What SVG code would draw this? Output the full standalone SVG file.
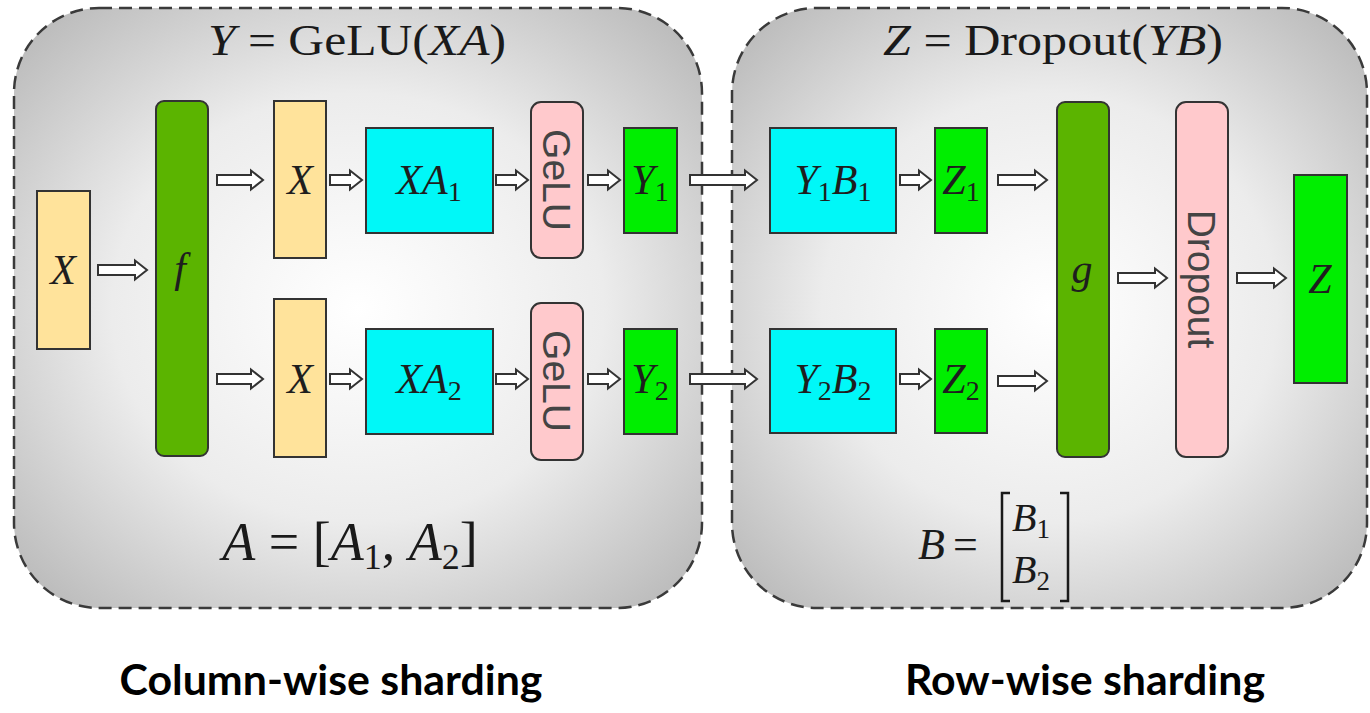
<svg xmlns="http://www.w3.org/2000/svg" width="1370" height="713" viewBox="0 0 1370 713">
<defs>
<radialGradient id="bg" cx="50%" cy="50%" r="65%">
<stop offset="0" stop-color="#ffffff"/>
<stop offset="0.55" stop-color="#ececec"/>
<stop offset="1" stop-color="#bdbdbd"/>
</radialGradient>
<style>
.panel{fill:url(#bg);stroke:#3a3a3a;stroke-width:2.5;stroke-dasharray:13 7}
.box{stroke:#333;stroke-width:2}
.yel{fill:#ffe39b}
.dg{fill:#5bb400}
.cy{fill:#00f8f8}
.pk{fill:#ffc9cc}
.bg{fill:#00ee00}
.m{font-family:"Liberation Serif","DejaVu Serif",serif;fill:#1a1a1a}
.i{font-style:italic}
.lbl{font-family:"Liberation Serif","DejaVu Serif",serif;font-size:42px;fill:#1e1e1e;text-anchor:middle}
.rot{font-family:"Liberation Sans",Arial,sans-serif;font-size:39px;fill:#444;text-anchor:middle}
.arr{fill:#fff;stroke:#333;stroke-width:2;stroke-linejoin:miter}
.cap{font-family:Lato,"Liberation Sans",sans-serif;font-weight:bold;font-size:42px;fill:#000;text-anchor:middle}
</style>
</defs>
<rect width="1370" height="713" fill="#fff"/>
<g id="panel-left">
<rect class="panel" x="14" y="8" width="688" height="600" rx="85" ry="85"/>
<text class="m" x="357" y="55" font-size="44" text-anchor="middle" textLength="298" lengthAdjust="spacingAndGlyphs"><tspan class="i">Y</tspan> = GeLU(<tspan class="i">XA</tspan>)</text>
<text class="m" x="350" y="560" font-size="54" text-anchor="middle"><tspan class="i">A</tspan> = [<tspan class="i">A</tspan><tspan font-size="36" dy="9">1</tspan><tspan dy="-9">, </tspan><tspan class="i">A</tspan><tspan font-size="36" dy="9">2</tspan><tspan dy="-9">]</tspan></text>
</g>
<g id="panel-right">
<rect class="panel" x="732" y="8" width="635" height="600" rx="85" ry="85"/>
<text class="m" x="1053" y="55" font-size="44" text-anchor="middle" textLength="340" lengthAdjust="spacingAndGlyphs"><tspan class="i">Z</tspan> = Dropout(<tspan class="i">YB</tspan>)</text>
<text class="m i" x="918" y="559" font-size="44">B</text>
<text class="m" x="953" y="559" font-size="44">=</text>
<polyline points="1010,493 1002,493 1002,601 1010,601" fill="none" stroke="#1a1a1a" stroke-width="2.5"/>
<polyline points="1060,493 1068,493 1068,601 1060,601" fill="none" stroke="#1a1a1a" stroke-width="2.5"/>
<text class="m" x="1012" y="531" font-size="40"><tspan class="i">B</tspan><tspan font-size="27" dy="7">1</tspan></text>
<text class="m" x="1012" y="583" font-size="40"><tspan class="i">B</tspan><tspan font-size="27" dy="7">2</tspan></text>
</g>
<g id="connectors">
<path class="arr" d="M98 265 H135 V260.5 L147 270 L135 279.5 V275 H98 Z"/>
<path class="arr" d="M217 175 H251 V170.5 L263 180 L251 189.5 V185 H217 Z"/>
<path class="arr" d="M217 374 H251 V369.5 L263 379 L251 388.5 V384 H217 Z"/>
<path class="arr" d="M330 175 H350 V170.5 L362 180 L350 189.5 V185 H330 Z"/>
<path class="arr" d="M330 374 H350 V369.5 L362 379 L350 388.5 V384 H330 Z"/>
<path class="arr" d="M496 175 H516 V170.5 L528 180 L516 189.5 V185 H496 Z"/>
<path class="arr" d="M496 374 H516 V369.5 L528 379 L516 388.5 V384 H496 Z"/>
<path class="arr" d="M588 175 H608 V170.5 L620 180 L608 189.5 V185 H588 Z"/>
<path class="arr" d="M588 374 H608 V369.5 L620 379 L608 388.5 V384 H588 Z"/>
<path class="arr" d="M690 175 H745 V170.5 L757 180 L745 189.5 V185 H690 Z"/>
<path class="arr" d="M690 374 H745 V369.5 L757 379 L745 388.5 V384 H690 Z"/>
<path class="arr" d="M900 175 H919 V170.5 L931 180 L919 189.5 V185 H900 Z"/>
<path class="arr" d="M900 374 H919 V369.5 L931 379 L919 388.5 V384 H900 Z"/>
<path class="arr" d="M998 175 H1035 V170.5 L1047 180 L1035 189.5 V185 H998 Z"/>
<path class="arr" d="M998 376 H1035 V371.5 L1047 381 L1035 390.5 V386 H998 Z"/>
<path class="arr" d="M1118 273 H1155 V268.5 L1167 278 L1155 287.5 V283 H1118 Z"/>
<path class="arr" d="M1237 273 H1274 V268.5 L1286 278 L1274 287.5 V283 H1237 Z"/>
</g>
<g id="node-x-in">
<rect class="box yel" x="37" y="191" width="53" height="158"/>
<text class="lbl i" x="63" y="284">X</text>
</g>
<g id="node-f">
<rect class="box dg" x="156" y="101" width="52" height="355" rx="8"/>
<text class="lbl i" x="180" y="282">f</text>
</g>
<g id="node-x1">
<rect class="box yel" x="274" y="101" width="52" height="157"/>
<text class="lbl i" x="300" y="194">X</text>
</g>
<g id="node-x2">
<rect class="box yel" x="274" y="299" width="52" height="158"/>
<text class="lbl i" x="300" y="393">X</text>
</g>
<g id="node-xa1">
<rect class="box cy" x="366" y="128" width="127" height="105"/>
<text class="lbl" x="429" y="194"><tspan class="i">XA</tspan><tspan font-size="28" dy="7">1</tspan></text>
</g>
<g id="node-xa2">
<rect class="box cy" x="366" y="329" width="127" height="105"/>
<text class="lbl" x="429" y="393"><tspan class="i">XA</tspan><tspan font-size="28" dy="7">2</tspan></text>
</g>
<g id="node-gelu1">
<rect class="box pk" x="531" y="102" width="52" height="156" rx="10"/>
<text class="rot" transform="translate(557 180) rotate(90)" y="14">GeLU</text>
</g>
<g id="node-gelu2">
<rect class="box pk" x="531" y="303" width="52" height="157" rx="10"/>
<text class="rot" transform="translate(557 381) rotate(90)" y="14">GeLU</text>
</g>
<g id="node-y1">
<rect class="box bg" x="624" y="128" width="53" height="105"/>
<text class="lbl" x="650" y="194"><tspan class="i">Y</tspan><tspan font-size="28" dy="7">1</tspan></text>
</g>
<g id="node-y2">
<rect class="box bg" x="624" y="329" width="53" height="105"/>
<text class="lbl" x="650" y="393"><tspan class="i">Y</tspan><tspan font-size="28" dy="7">2</tspan></text>
</g>
<g id="node-y1b1">
<rect class="box cy" x="770" y="128" width="126" height="105"/>
<text class="lbl" x="833" y="194"><tspan class="i">Y</tspan><tspan font-size="28" dy="7">1</tspan><tspan class="i" dy="-7">B</tspan><tspan font-size="28" dy="7">1</tspan></text>
</g>
<g id="node-y2b2">
<rect class="box cy" x="770" y="329" width="126" height="104"/>
<text class="lbl" x="833" y="393"><tspan class="i">Y</tspan><tspan font-size="28" dy="7">2</tspan><tspan class="i" dy="-7">B</tspan><tspan font-size="28" dy="7">2</tspan></text>
</g>
<g id="node-z1">
<rect class="box bg" x="935" y="128" width="52" height="105"/>
<text class="lbl" x="961" y="194"><tspan class="i">Z</tspan><tspan font-size="28" dy="7">1</tspan></text>
</g>
<g id="node-z2">
<rect class="box bg" x="935" y="329" width="52" height="104"/>
<text class="lbl" x="961" y="393"><tspan class="i">Z</tspan><tspan font-size="28" dy="7">2</tspan></text>
</g>
<g id="node-g">
<rect class="box dg" x="1057" y="102" width="52" height="355" rx="8"/>
<text class="lbl i" x="1082" y="283">g</text>
</g>
<g id="node-dropout">
<rect class="box pk" x="1176" y="102" width="52" height="355" rx="10"/>
<text class="rot" transform="translate(1202 279) rotate(90)" y="14">Dropout</text>
</g>
<g id="node-z">
<rect class="box bg" x="1294" y="175" width="53" height="208"/>
<text class="lbl i" x="1320" y="293">Z</text>
</g>
<g id="captions">
<text class="cap" x="331" y="695" textLength="423" lengthAdjust="spacingAndGlyphs">Column-wise sharding</text>
<text class="cap" x="1085" y="695" textLength="360" lengthAdjust="spacingAndGlyphs">Row-wise sharding</text>
</g>
</svg>
